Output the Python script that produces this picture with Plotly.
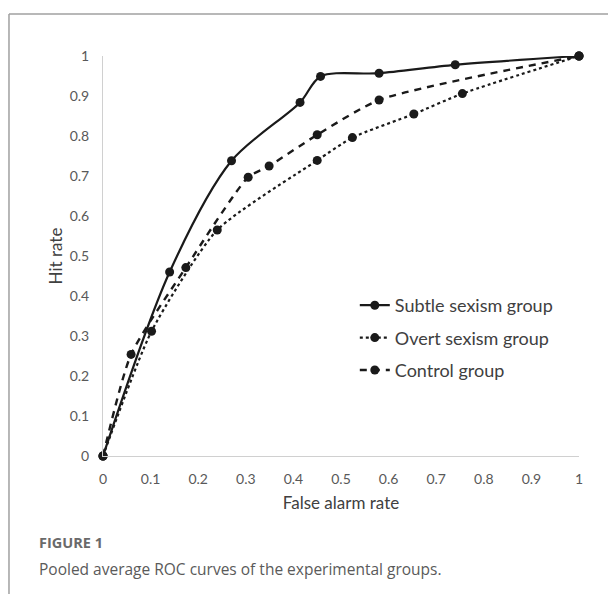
import plotly.graph_objects as go

# Data
subtle_far = [0, 0.14, 0.27, 0.414, 0.457, 0.58, 0.74, 1]
subtle_hit = [0, 0.46, 0.738, 0.884, 0.949, 0.957, 0.978, 1]

overt_far = [0, 0.102, 0.24, 0.45, 0.524, 0.653, 0.755, 1]
overt_hit = [0, 0.312, 0.565, 0.739, 0.796, 0.855, 0.906, 1]

control_far = [0, 0.059, 0.174, 0.305, 0.349, 0.45, 0.58, 1]
control_hit = [0, 0.254, 0.471, 0.697, 0.725, 0.803, 0.89, 1]

tick_vals = [0, 0.1, 0.2, 0.3, 0.4, 0.5, 0.6, 0.7, 0.8, 0.9, 1]
tick_text = ["0", "0.1", "0.2", "0.3", "0.4", "0.5", "0.6", "0.7", "0.8", "0.9", "1"]

LINE = "#1a1a1a"
FONT = "Lato, Carlito, 'Liberation Sans', sans-serif"

fig = go.Figure()
fig.add_trace(go.Scatter(
    x=subtle_far, y=subtle_hit, name="Subtle sexism group", mode="lines+markers",
    legendgroup="a",
    line=dict(color=LINE, width=2.2, shape="spline", smoothing=0.85),
    marker=dict(color=LINE, size=9), cliponaxis=False))
fig.add_trace(go.Scatter(
    x=overt_far, y=overt_hit, name="Overt sexism group", mode="lines+markers",
    legendgroup="b",
    line=dict(color=LINE, width=2.2, dash="dot", shape="spline", smoothing=0.6),
    marker=dict(color=LINE, size=9), cliponaxis=False))
fig.add_trace(go.Scatter(
    x=control_far, y=control_hit, name="Control group", mode="lines+markers",
    legendgroup="c",
    line=dict(color=LINE, width=2.4, dash="7px,6px", shape="spline", smoothing=0.6),
    marker=dict(color=LINE, size=9), cliponaxis=False))

axis_common = dict(
    range=[0, 1], tickvals=tick_vals, ticktext=tick_text, showgrid=False,
    zeroline=False, showline=True, linecolor="#d0d0d0", linewidth=1,
    ticks="", tickfont=dict(family=FONT, size=14, color="#595959"),
    fixedrange=True)

fig.update_layout(
    width=608, height=586,
    margin=dict(l=95, r=37, t=48, b=138),
    paper_bgcolor="white", plot_bgcolor="white",
    showlegend=True,
    legend=dict(x=0.529, y=0.4225, xanchor="left", yanchor="top",
                font=dict(family=FONT, size=18, color="#404040"),
                bgcolor="rgba(0,0,0,0)", tracegroupgap=6, itemwidth=30),
    xaxis=dict(**axis_common, ticklabelstandoff=10,
               title=dict(text="False alarm rate", standoff=11,
                          font=dict(family=FONT, size=17, color="#404040"))),
    yaxis=dict(**axis_common, ticklabelstandoff=10,
               title=dict(text="Hit rate", standoff=2,
                          font=dict(family=FONT, size=17, color="#404040"))),
)

# Decorative frame (top and left border)
fig.add_shape(type="line", xref="paper", yref="paper", x0=-0.1975, x1=1.1,
              y0=1.105, y1=1.105, line=dict(color="#a0a0a0", width=1.5))
fig.add_shape(type="line", xref="paper", yref="paper", x0=-0.1975, x1=-0.1975,
              y0=1.105, y1=-0.36, line=dict(color="#a0a0a0", width=1.5))

fig.add_annotation(text="<b>FIGURE 1</b>", xref="paper", yref="paper",
                   x=-0.1387, y=-0.215, xanchor="left", yanchor="middle",
                   showarrow=False,
                   font=dict(family="'Open Sans', sans-serif", size=14.5, color="#6a6a6a"))
fig.add_annotation(text="Pooled average ROC curves of the experimental groups.",
                   xref="paper", yref="paper", x=-0.1395, y=-0.283,
                   xanchor="left", yanchor="middle", showarrow=False,
                   font=dict(family="'Open Sans', sans-serif", size=15.5, color="#5a5a5a"))

fig.write_html("out.html")
